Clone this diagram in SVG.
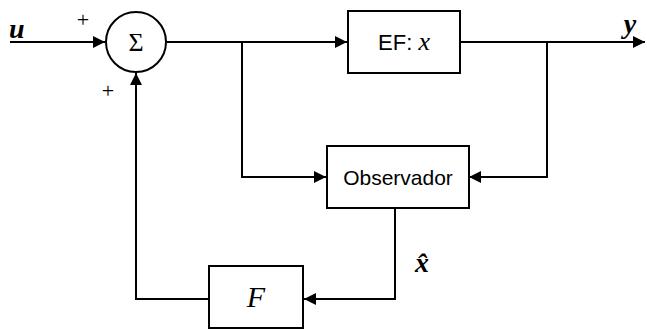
<svg xmlns="http://www.w3.org/2000/svg" width="647" height="329" viewBox="0 0 647 329">
<style>
.box{fill:#fff;stroke:#000;stroke-width:2}
.ln{fill:none;stroke:#000;stroke-width:2}
.sans{font-family:"Liberation Sans",Arial,sans-serif;fill:#000}
.ser{font-family:"Liberation Serif","Times New Roman",serif;fill:#000}
</style>
<defs>
<marker id="ah" viewBox="0 0 12 12" refX="12" refY="6" markerWidth="12" markerHeight="12" markerUnits="userSpaceOnUse" orient="auto">
<path d="M0,0 L12,6 L0,12 Z" fill="#000"/>
</marker>
</defs>
<rect width="647" height="329" fill="#fff"/>
<g id="connectors">
<path class="ln" d="M10,42 H105" marker-end="url(#ah)"/>
<path class="ln" d="M166,42 H347" marker-end="url(#ah)"/>
<path class="ln" d="M242,42 V177 H326" marker-end="url(#ah)"/>
<path class="ln" d="M460,42 H645" marker-end="url(#ah)"/>
<path class="ln" d="M547,42 V177 H469" marker-end="url(#ah)"/>
<path class="ln" d="M395,208 V299 H304" marker-end="url(#ah)"/>
<path class="ln" d="M209,299 H136 V73" marker-end="url(#ah)"/>
</g>
<g id="sum">
<circle cx="136" cy="42" r="30" fill="#fff" stroke="#000" stroke-width="2"/>
<text x="136" y="51" class="ser" font-size="26" text-anchor="middle">Σ</text>
</g>
<g id="ef">
<rect class="box" x="348" y="11" width="112" height="62"/>
<text x="404" y="50" class="sans" font-size="22" text-anchor="middle">EF: <tspan class="ser" font-style="italic" font-size="26">x</tspan></text>
</g>
<g id="observador">
<rect class="box" x="327" y="146" width="142" height="62"/>
<text x="398" y="185" class="sans" font-size="21" text-anchor="middle">Observador</text>
</g>
<g id="f">
<rect class="box" x="209" y="266" width="94" height="62"/>
<text x="256" y="307" class="ser" font-size="30" font-style="italic" text-anchor="middle">F</text>
</g>
<g id="labels">
<text x="9" y="38" class="ser" font-size="28" font-style="italic" font-weight="bold">u</text>
<text x="83" y="27" class="ser" font-size="22" text-anchor="middle">+</text>
<text x="108" y="98" class="ser" font-size="22" text-anchor="middle">+</text>
<text x="630" y="33" class="ser" font-size="28" font-style="italic" font-weight="bold" text-anchor="middle">y</text>
<text x="422" y="272" class="ser" font-size="28" font-style="italic" font-weight="bold" text-anchor="middle">x̂</text>
</g>
</svg>
